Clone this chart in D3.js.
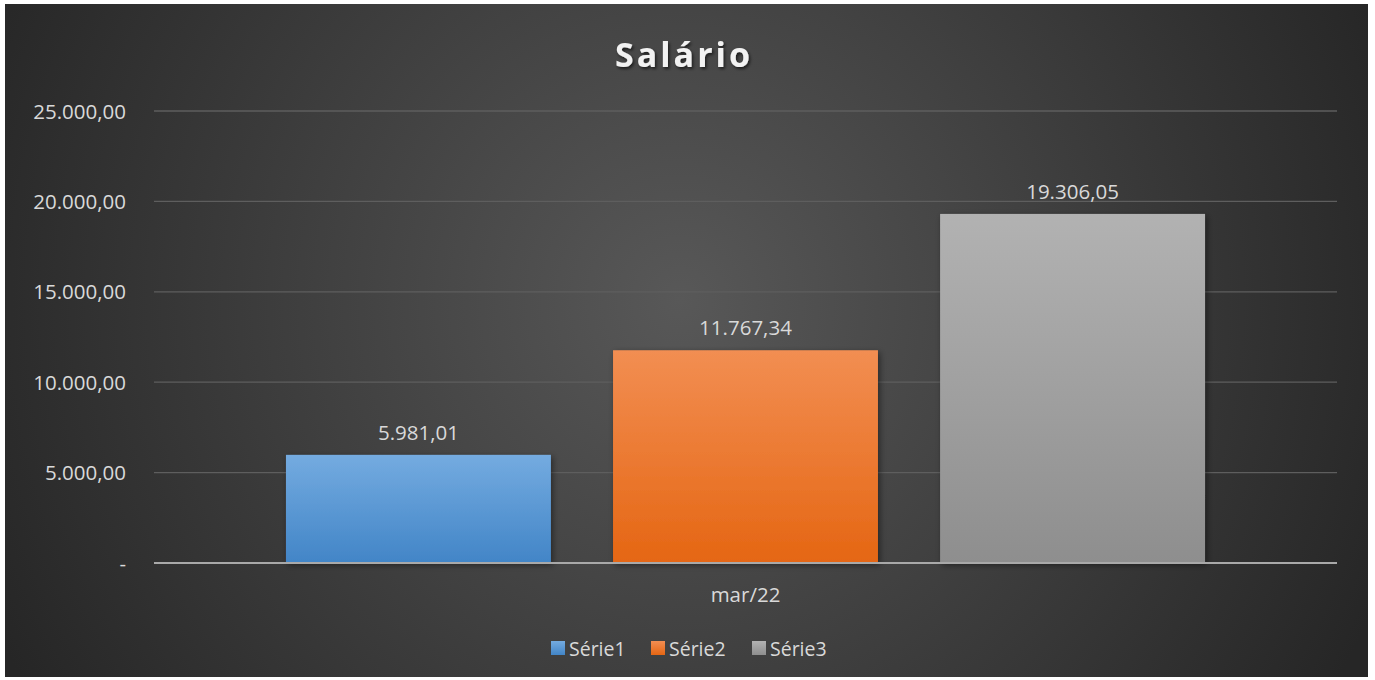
<!DOCTYPE html>
<html><head><meta charset="utf-8">
<script src="https://cdn.jsdelivr.net/npm/d3@7"></script>
<style>html,body{margin:0;padding:0;background:#fff;}svg{display:block;}</style>
</head><body>
<svg id="c" width="1375" height="680"></svg>
<script>
const title = "Salário";
const categories = ["mar/22"];
const seriesNames = ["Série1", "Série2", "Série3"];
const seriesValues = [5981.01, 11767.34, 19306.05];
const yTicks = [0, 5000, 10000, 15000, 20000, 25000];
const tickLabels = ["-", "5.000,00", "10.000,00", "15.000,00", "20.000,00", "25.000,00"];
const valueLabels = ["5.981,01", "11.767,34", "19.306,05"];

const svg = d3.select("#c");
const font = "'Open Sans', 'Noto Sans', sans-serif";
const defs = svg.append("defs");
const bg = defs.append("radialGradient").attr("id","bg").attr("gradientUnits","userSpaceOnUse")
  .attr("cx",680).attr("cy",300).attr("r",760);
bg.append("stop").attr("offset","0%").attr("stop-color","#585858");
bg.append("stop").attr("offset","100%").attr("stop-color","#262626");
const cols = [["#74abe0","#4285c7"],["#f28e52","#e56613"],["#b2b2b2","#8e8e8e"]];
cols.forEach((c,i)=>{
  const g = defs.append("linearGradient").attr("id","g"+i).attr("x1",0).attr("y1",0).attr("x2",0).attr("y2",1);
  g.append("stop").attr("offset","0%").attr("stop-color",c[0]);
  g.append("stop").attr("offset","100%").attr("stop-color",c[1]);
});
const f = defs.append("filter").attr("id","sh").attr("x","-10%").attr("y","-10%").attr("width","130%").attr("height","130%");
f.append("feDropShadow").attr("dx",2).attr("dy",2).attr("stdDeviation",3).attr("flood-color","#000").attr("flood-opacity",0.45);
const ts = defs.append("filter").attr("id","ts").attr("x","-10%").attr("y","-20%").attr("width","130%").attr("height","150%");
ts.append("feDropShadow").attr("dx",1.5).attr("dy",2).attr("stdDeviation",1.5).attr("flood-color","#000").attr("flood-opacity",0.6);

svg.append("rect").attr("x",5).attr("y",4).attr("width",1363).attr("height",673).attr("fill","url(#bg)");

const plot = {l:154, r:1337, t:111, b:563};
const y = d3.scaleLinear().domain([0,25000]).range([plot.b, plot.t]);
const x0 = d3.scaleBand().domain(categories).range([plot.l, plot.r]).paddingInner(0).paddingOuter(0.1436);
const x1 = d3.scaleBand().domain(seriesNames).range([0, x0.bandwidth()]).paddingInner(0.19);

// gridlines
svg.append("g").selectAll("line").data(yTicks.filter(d=>d>0)).join("line")
  .attr("x1",plot.l).attr("x2",plot.r).attr("y1",d=>y(d)).attr("y2",d=>y(d))
  .attr("stroke","#5e5e5e").attr("stroke-width",1.3);

// y axis labels
const yAxis = d3.axisLeft(y).tickValues(yTicks).tickFormat((d,i)=>tickLabels[i]).tickSize(0).tickPadding(0);
const ya = svg.append("g").attr("transform",`translate(126,0)`).call(yAxis);
ya.select(".domain").remove();
ya.selectAll("text").attr("fill","#d9d9d9").attr("font-family",font).attr("font-size",20.5).attr("dy","0.35em");

// bars
const grp = svg.append("g").attr("transform",`translate(${x0(categories[0])},0)`);
grp.selectAll("rect").data(seriesValues).join("rect")
  .attr("x",(d,i)=>x1(seriesNames[i])).attr("width",x1.bandwidth())
  .attr("y",d=>y(d)).attr("height",d=>plot.b-y(d))
  .attr("fill",(d,i)=>`url(#g${i})`).attr("filter","url(#sh)");
grp.selectAll("text").data(seriesValues).join("text")
  .attr("x",(d,i)=>x1(seriesNames[i])+x1.bandwidth()/2).attr("y",d=>y(d)-15)
  .attr("text-anchor","middle").attr("fill","#d9d9d9").attr("font-family",font).attr("font-size",20.5)
  .text((d,i)=>valueLabels[i]);

// x axis line
svg.append("line").attr("x1",plot.l).attr("x2",plot.r).attr("y1",plot.b).attr("y2",plot.b)
  .attr("stroke","#a9a9a9").attr("stroke-width",2.2);
const xAxis = d3.axisBottom(x0).tickSize(0).tickPadding(0);
const xa = svg.append("g").attr("transform",`translate(0,${plot.b+39})`).call(xAxis);
xa.select(".domain").remove();
xa.selectAll("text").attr("fill","#d9d9d9").attr("font-family",font).attr("font-size",20.5).attr("dy","0");

// title
svg.append("text").attr("x",684).attr("y",67).attr("text-anchor","middle")
  .attr("fill","#f2f2f2").attr("font-family",font).attr("font-weight","bold").attr("font-size",34)
  .attr("letter-spacing","3px").attr("filter","url(#ts)").text(title);

// legend
const legX = [551, 651, 752];
const lg = svg.append("g").selectAll("g").data(seriesNames).join("g")
  .attr("transform",(d,i)=>`translate(${legX[i]},641)`);
lg.append("rect").attr("width",14).attr("height",14).attr("fill",(d,i)=>`url(#g${i})`);
lg.append("text").attr("x",18).attr("y",14.5).attr("fill","#d9d9d9").attr("font-family",font).attr("font-size",19.5).text(d=>d);
</script>
</body></html>
